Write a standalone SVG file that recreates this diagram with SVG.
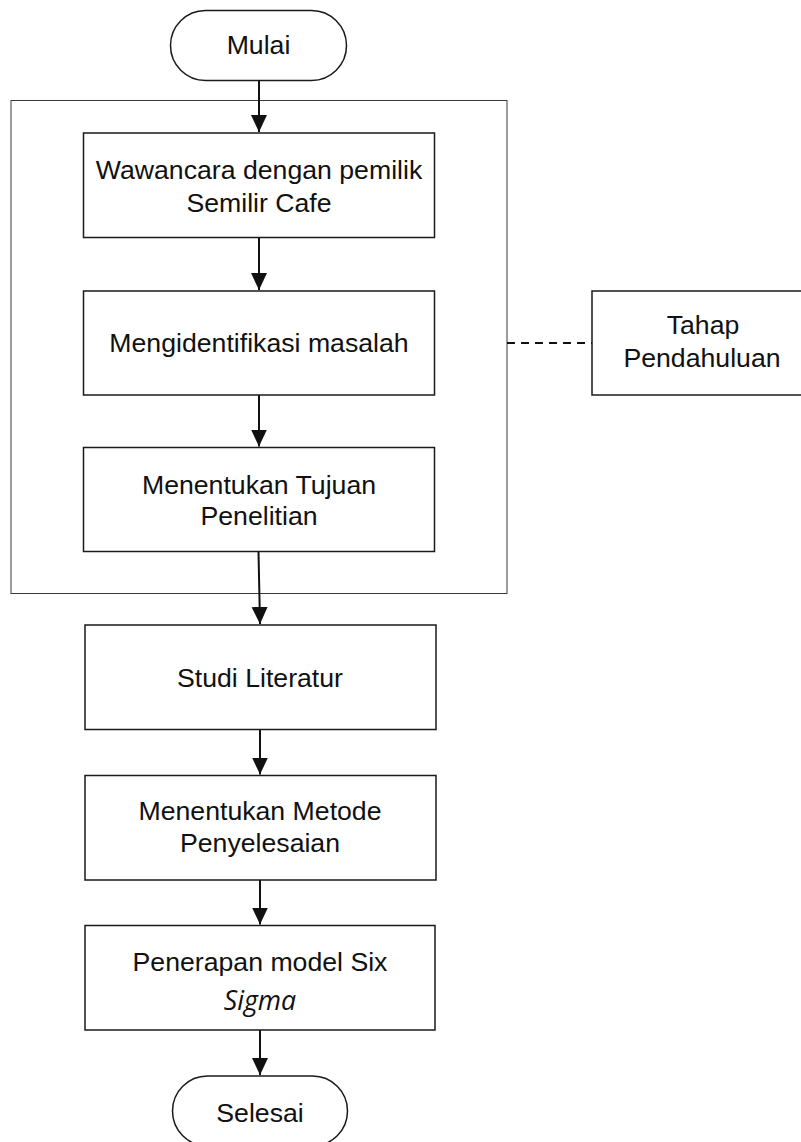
<svg xmlns="http://www.w3.org/2000/svg" width="801" height="1142" viewBox="0 0 801 1142">
<style>
.box{fill:#fff;stroke:#1a1a1a;stroke-width:1.5}
.term{fill:#fff;stroke:#1a1a1a;stroke-width:1.5}
.frame{fill:none;stroke:#3a3a3a;stroke-width:1}
.t{font-family:Arial,"Liberation Sans",Helvetica,sans-serif;font-size:26.67px;fill:#111;text-anchor:middle}
.it{font-family:"Open Sans",sans-serif;font-style:italic;font-size:26.67px;fill:#111;text-anchor:middle}
.edge{stroke:#111;stroke-width:2;fill:none;marker-end:url(#ah)}
.dash{stroke:#111;stroke-width:2;fill:none;stroke-dasharray:8 6}
</style>
<defs>
<marker id="ah" markerUnits="userSpaceOnUse" markerWidth="18" markerHeight="18" viewBox="0 0 18 16" refX="17" refY="8" orient="auto">
<path d="M0,0 L17,8 L0,16 Z" fill="#111"/>
</marker>
</defs>
<rect width="801" height="1142" fill="#fff"/>
<g id="frame"><rect class="frame" x="11" y="100.5" width="496" height="493"/></g>
<g id="connectors">
<line class="edge" x1="259" y1="81" x2="259" y2="132"/>
<line class="edge" x1="259" y1="237.5" x2="259" y2="290"/>
<line class="edge" x1="259" y1="395" x2="259" y2="446.5"/>
<line class="edge" x1="258.5" y1="552" x2="260" y2="624"/>
<line class="edge" x1="260" y1="729.5" x2="260" y2="774.5"/>
<line class="edge" x1="260" y1="880" x2="260" y2="924.5"/>
<line class="edge" x1="260" y1="1030" x2="260" y2="1075"/>
<line class="dash" x1="507" y1="343" x2="592" y2="343"/>
</g>
<g id="mulai"><rect class="term" x="170.5" y="10.5" width="176" height="70" rx="35"/><text class="t" x="258.5" y="53.5">Mulai</text></g>
<g id="wawancara"><rect class="box" x="83.5" y="133" width="351" height="104.5"/><text class="t" x="259" y="178.5">Wawancara dengan pemilik</text><text class="t" x="259" y="211.5">Semilir Cafe</text></g>
<g id="identifikasi"><rect class="box" x="83.5" y="291" width="351" height="104"/><text class="t" x="259" y="352">Mengidentifikasi masalah</text></g>
<g id="tujuan"><rect class="box" x="83.5" y="447.5" width="351" height="104"/><text class="t" x="259" y="493.5">Menentukan Tujuan</text><text class="t" x="259" y="525">Penelitian</text></g>
<g id="studi"><rect class="box" x="85" y="625" width="351" height="104.5"/><text class="t" x="260" y="686.5">Studi Literatur</text></g>
<g id="metode"><rect class="box" x="85" y="775.5" width="351" height="104.5"/><text class="t" x="260" y="820">Menentukan Metode</text><text class="t" x="260" y="851.5">Penyelesaian</text></g>
<g id="sixsigma"><rect class="box" x="85" y="925.5" width="350" height="104.5"/><text class="t" x="260" y="970.5">Penerapan model Six</text><text class="it" x="260" y="1010">Sigma</text></g>
<g id="selesai"><rect class="term" x="172.5" y="1076" width="175" height="70" rx="35"/><text class="t" x="260" y="1121.5">Selesai</text></g>
<g id="tahap"><rect class="box" x="592" y="291" width="230" height="104"/><text class="t" x="703" y="333.5">Tahap</text><text class="t" x="702" y="366.5">Pendahuluan</text></g>
</svg>
